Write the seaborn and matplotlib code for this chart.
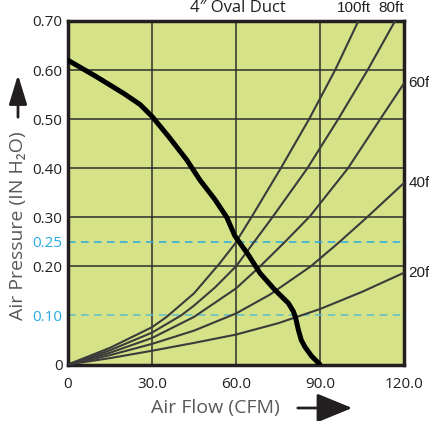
import pandas as pd
import matplotlib.pyplot as plt
import matplotlib.patches as mpatches
import seaborn as sns

# --- datos ---
flujo_fan = [0, 10, 20, 25.7, 30.1, 36, 42.4, 47.1, 52.5, 56.7, 59.6, 64.4,
             68.6, 73.9, 78.7, 80.5, 81.3, 82.3, 83.3, 84.6, 87, 90]
presion_fan = [0.62, 0.587, 0.552, 0.53, 0.505, 0.464, 0.417, 0.376, 0.336, 0.300,
               0.262, 0.2235, 0.186, 0.152, 0.125, 0.108, 0.095, 0.07, 0.05, 0.036,
               0.017, 0.0]

flujo_100 = [0, 15, 30, 35, 45, 54, 59.5, 65.5, 76, 86.1, 95.4, 103.7]
presion_100 = [0, 0.034, 0.076, 0.096, 0.145, 0.205, 0.245, 0.3, 0.4, 0.5, 0.6, 0.70]
flujo_80 = [0, 15, 30, 40.4, 45, 52.5, 60, 66.5, 73, 85.5, 96.5, 107, 116.8]
presion_80 = [0, 0.029, 0.065, 0.1, 0.12, 0.157, 0.2, 0.25, 0.3, 0.4, 0.5, 0.6, 0.70]
flujo_60 = [0, 15, 30, 45, 60, 68.6, 77.5, 86.4, 100, 111.5, 120]
presion_60 = [0, 0.024, 0.054, 0.097, 0.155, 0.2, 0.25, 0.302, 0.4, 0.5, 0.573]
flujo_40 = [0, 15, 30, 45, 60, 72, 86.7, 96.4, 106.4, 120]
presion_40 = [0, 0.019, 0.042, 0.069, 0.104, 0.142, 0.2, 0.247, 0.298, 0.37]
flujo_20 = [0, 15, 30, 45, 60, 75, 90, 105, 120]
presion_20 = [0, 0.013, 0.028, 0.044, 0.061, 0.084, 0.113, 0.148, 0.187]

nombres = ["100ft", "80ft", "60ft", "40ft", "20ft"]
curvas = [(flujo_100, presion_100), (flujo_80, presion_80), (flujo_60, presion_60),
          (flujo_40, presion_40), (flujo_20, presion_20)]

y_ticks = [0, 0.10, 0.20, 0.25, 0.30, 0.40, 0.50, 0.60, 0.70]
y_labels = ["0", "0.10", "0.20", "0.25", "0.30", "0.40", "0.50", "0.60", "0.70"]
x_ticks = [0, 30, 60, 90, 120]
x_labels = ["0", "30.0", "60.0", "90.0", "120.0"]

df = pd.concat([pd.DataFrame({"flujo": f, "presion": p, "curva": n})
                for n, (f, p) in zip(nombres, curvas)], ignore_index=True)
df_fan = pd.DataFrame({"flujo": flujo_fan, "presion": presion_fan})

# --- estilo ---
sns.set_theme(style="white")
plt.rcParams['font.family'] = ['Open Sans', 'DejaVu Sans']
azul = '#29abe2'
texto = '#231f20'

fig = plt.figure(figsize=(4.29, 4.21), dpi=100)
ax = fig.add_axes([68 / 429, 1 - 364.5 / 421, 336 / 429, 343.5 / 421])
ax.set_facecolor('#d5e287')

# grilla
for gx in [30, 60, 90]:
    ax.axvline(gx, color='#2e2e2e', lw=1.1, zorder=1)
for gy in [0.2, 0.3, 0.4, 0.5, 0.6]:
    ax.axhline(gy, color='#2e2e2e', lw=1.1, zorder=1)
ax.axhline(0.25, color=azul, lw=1.1, ls=(0, (5, 3.5)), zorder=1.5)
ax.axhline(0.10, color='#5cbfca', lw=1.1, ls=(0, (5, 3.5)), zorder=1.5)

# curvas del sistema
sns.lineplot(data=df, x="flujo", y="presion", units="curva", estimator=None,
             color='#3b3b3b', lw=1.5, sort=False, ax=ax, zorder=3)
# curva del ventilador
sns.lineplot(data=df_fan, x="flujo", y="presion", color='black', lw=3.6,
             sort=False, ax=ax, zorder=4)
for ln in ax.get_lines():
    ln.set_solid_joinstyle('round')

ax.set_xlim(0, 120)
ax.set_ylim(0, 0.70)
ax.set_xticks(x_ticks)
ax.set_xticklabels(x_labels)
ax.set_yticks(y_ticks)
ax.set_yticklabels(y_labels)
ax.tick_params(axis='both', length=0, labelsize=11, colors=texto)
ax.tick_params(axis='x', pad=9)
ax.tick_params(axis='y', pad=4)
for lbl in ax.get_yticklabels():
    if lbl.get_text() in ("0.10", "0.25"):
        lbl.set_color(azul)
for s in ax.spines.values():
    s.set_visible(True)
    s.set_color(texto)
    s.set_linewidth(2.5)
ax.set_xlabel("")
ax.set_ylabel("")

# etiquetas de las curvas
cond = ['Liberation Sans Narrow', 'Liberation Sans', 'DejaVu Sans']
for n, (f, p) in zip(nombres, curvas):
    if p[-1] >= 0.69:
        ax.annotate(n, (f[-1], 0.70), xytext=(-3, 4), textcoords='offset points',
                    ha='center', va='bottom', fontsize=11, family=cond,
                    color=texto, annotation_clip=False)
    else:
        ax.annotate(n, (120, p[-1]), xytext=(3, 0), textcoords='offset points',
                    ha='left', va='center', fontsize=11, family=cond,
                    color=texto, annotation_clip=False)

# títulos y ejes
fig.text(238 / 429, 1 - 8 / 421, "4\u2033 Oval Duct", ha='center', va='center',
         fontsize=12, color=texto)
fig.text(215 / 429, 1 - 408 / 421, "Air Flow (CFM)", ha='center', va='center',
         fontsize=14, color='#58595b')
fig.text(18 / 429, 1 - 226 / 421, "Air Pressure (IN H\u2082O)", ha='center',
         va='center', rotation=90, fontsize=14, color='#58595b')

# flechas
fig.patches.append(mpatches.FancyArrowPatch(
    (18, 421 - 120), (18, 421 - 72), transform=None,
    arrowstyle='-|>,head_length=18,head_width=5.5', mutation_scale=1,
    lw=2, color=texto))
fig.patches.append(mpatches.FancyArrowPatch(
    (295, 421 - 408), (355, 421 - 408), transform=None,
    arrowstyle='-|>,head_length=22,head_width=9', mutation_scale=1,
    lw=2, color=texto))

plt.savefig("out.png", dpi=100)
